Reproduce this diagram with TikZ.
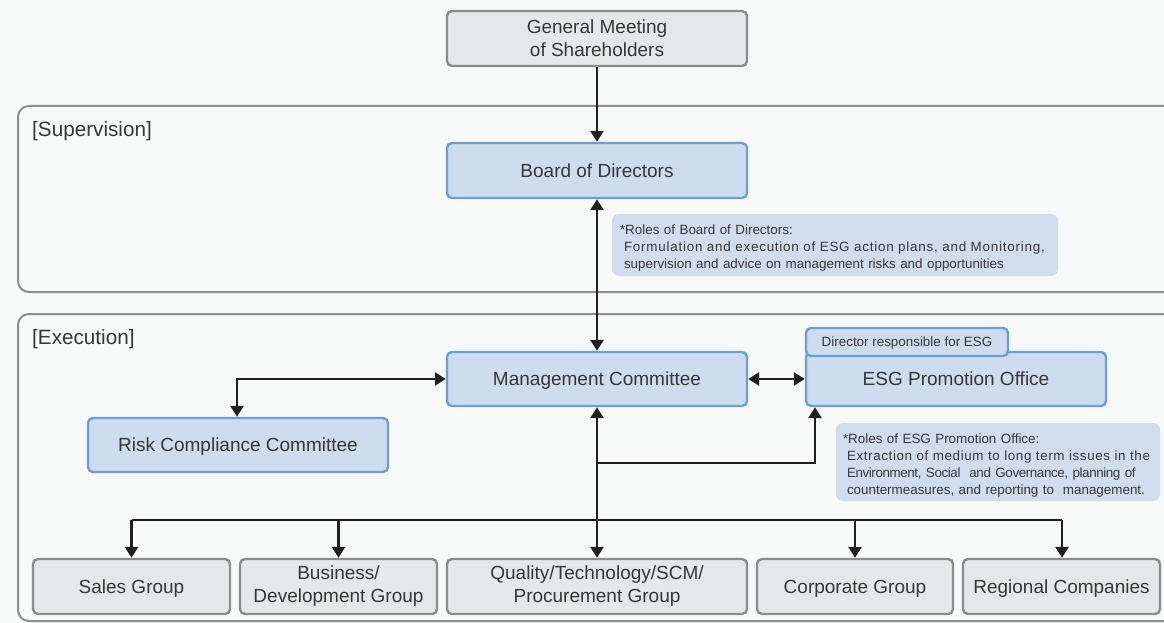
\documentclass[tikz,border=0pt]{standalone}
\usepackage{fontspec}
\setmainfont{Liberation Sans}
\newfontfamily\notewide[LetterSpace=5.8]{Liberation Sans}
\newfontfamily\notewideb[LetterSpace=4.6]{Liberation Sans}
\newfontfamily\notenarrow[LetterSpace=-3]{Liberation Sans}
\usetikzlibrary{arrows.meta}
\definecolor{bg}{RGB}{248,249,249}
\definecolor{gfill}{RGB}{230,231,232}
\definecolor{gline}{RGB}{140,140,140}
\definecolor{bfill}{RGB}{205,220,238}
\definecolor{bline}{RGB}{110,158,216}
\definecolor{nfill}{RGB}{207,221,239}
\definecolor{frm}{RGB}{142,142,142}
\definecolor{txt}{RGB}{55,55,55}
\definecolor{arr}{RGB}{35,31,32}
\newcommand{\topstrut}{\rule{0pt}{15.8pt}}
\tikzset{
  base/.style={rounded corners=5pt, line width=2.4pt, text=txt, align=center, inner sep=0pt,
    font=\fontsize{19}{23}\selectfont},
  oneline/.style={text height=13.6pt, text depth=0pt},
  graybox/.style={base, fill=gfill, draw=gline},
  bluebox/.style={base, fill=bfill, draw=bline},
  tabbox/.style={rounded corners=5pt, line width=2.4pt, fill=bfill, draw=bline, text=txt, inner sep=0pt,
    text height=9.6pt, text depth=0pt, font=\fontsize{13.4}{15}\selectfont},
  notebox/.style={rounded corners=7pt, fill=nfill, text=txt, align=left, inner ysep=0pt,
    font=\fontsize{13.4}{17}\selectfont},
  frame/.style={rounded corners=11pt, line width=2pt, draw=frm},
  lbl/.style={anchor=west, text=txt, inner sep=0pt, font=\fontsize{20.7}{24}\selectfont},
  conn/.style={line width=2.8pt, draw=arr, arrows={-Triangle[length=11pt,width=13pt]}},
  conn2/.style={line width=2.8pt, draw=arr, arrows={Triangle[length=11pt,width=13pt]-Triangle[length=11pt,width=13pt]}},
  plain/.style={line width=2.8pt, draw=arr},
}
\begin{document}
\begin{tikzpicture}[x=1pt,y=-1pt]
\useasboundingbox (0,0) rectangle (1164,623);
\fill[bg] (0,0) rectangle (1164,623);
\begin{scope}
\clip (0,0) rectangle (1164,623);
\draw[frame] (18,106) rectangle (1190,292);
\draw[frame] (18,314) rectangle (1190,621);
\end{scope}
\node[lbl] (sup) at (32,131) {[Supervision]};
\node[lbl] (exe) at (32,339) {[Execution]};

\node[graybox, minimum width=300pt, minimum height=55pt] (gm) at (597,38.5) {General Meeting\\of Shareholders};
\node[bluebox, oneline, minimum width=300pt, minimum height=55pt] (bod) at (597,170.5) {Board of Directors};
\node[notebox, text width=430pt, inner xsep=8pt, minimum height=62pt] (note1) at (835,245)
  {\mbox{\topstrut*Roles of Board of Directors:}\\
   \mbox{\hspace{4pt}\notewide Formulation and execution of ESG action plans, and Monitoring,}\\
   \mbox{\hspace{4pt}supervision and advice on management risks and opportunities}};

\node[bluebox, oneline, minimum width=300pt, minimum height=54pt] (mc) at (597,379) {Management Committee};
\node[bluebox, oneline, minimum width=300pt, minimum height=54pt] (esg) at (956,379) {ESG Promotion Office};
\node[tabbox, minimum width=202pt, minimum height=28pt] (tab) at (907,342) {Director responsible for ESG};
\node[bluebox, oneline, minimum width=300pt, minimum height=54pt] (rcc) at (238,445) {Risk Compliance Committee};
\node[notebox, text width=310pt, inner xsep=7pt, minimum height=78pt] (note2) at (998,462)
  {\mbox{\topstrut*Roles of ESG Promotion Office:}\\
   \mbox{\hspace{4pt}\notewideb Extraction of medium to long term issues in the}\\
   \mbox{\hspace{4pt}\notenarrow Environment, Social\ \ and Governance, planning of}\\
   \mbox{\hspace{4pt}countermeasures, and reporting to\ \ management.}};

\node[graybox, oneline, minimum width=197pt, minimum height=55pt] (sales) at (131.5,586.5) {Sales Group};
\node[graybox, minimum width=197pt, minimum height=55pt] (bus) at (338.5,586.5) {Business/\\Development Group};
\node[graybox, minimum width=300pt, minimum height=55pt] (qual) at (597,586.5) {Quality/Technology/SCM/\\Procurement Group};
\node[graybox, oneline, minimum width=196pt, minimum height=55pt] (corp) at (855,586.5) {Corporate Group};
\node[graybox, oneline, minimum width=197pt, minimum height=55pt] (reg) at (1061.5,586.5) {Regional Companies};

\coordinate (rccturn) at (237,379);
\coordinate (esgturn) at (815,463);
\coordinate (branch) at (597,463);
\coordinate (barL) at (131.5,520);
\coordinate (barR) at (1062,520);
\coordinate (busbar) at (338.5,520);
\coordinate (corpbar) at (855,520);

\draw[conn] (gm) -- (bod);
\draw[conn2] (bod) -- (mc);
\draw[conn2] (mc.west) -- (rccturn) -- (rccturn |- rcc.north);
\draw[conn2] (mc) -- (esg);
\draw[conn2] (mc) -- (qual);
\draw[conn] (branch) -- (esgturn) -- (esgturn |- esg.south);
\draw[plain] (barL) -- (barR);
\draw[conn] (barL) -- (sales.north);
\draw[conn] (busbar) -- (bus.north);
\draw[conn] (corpbar) -- (corp.north);
\draw[conn] (barR) -- (barR |- reg.north);
\end{tikzpicture}
\end{document}
